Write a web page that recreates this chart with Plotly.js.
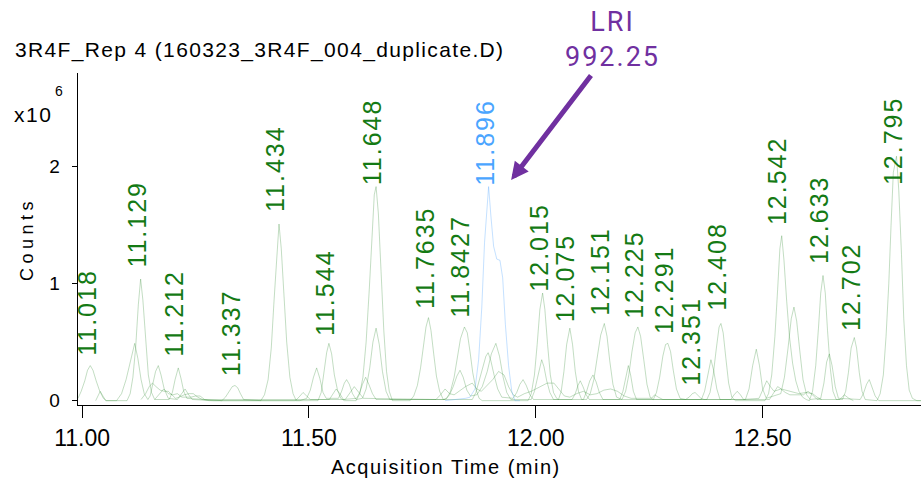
<!DOCTYPE html>
<html>
<head>
<meta charset="utf-8">
<script src="https://cdn.plot.ly/plotly-3.0.1.min.js"></script>
<style>
  html, body { margin: 0; padding: 0; background: #ffffff; }
  #chart { width: 921px; height: 478px; }
</style>
</head>
<body>
<div id="chart"></div>
<script>
// Overlaid extracted-ion chromatograms, 3R4F replicate 4.
// Each pair is [acquisition time (min), counts (x10^6)].

// Quantifier ions of the labelled compounds
const eicMain = [
  [10.991,0.02],[10.998,0.08],[11.006,0.17],[11.012,0.26],[11.018,0.30],[11.024,0.26],[11.031,0.17],[11.039,0.08],[11.047,0.02],[11.054,0.00],
  [11.099,0.00],[11.106,0.06],[11.112,0.20],[11.118,0.45],[11.124,0.82],[11.129,1.04],[11.134,0.86],[11.140,0.52],[11.146,0.22],[11.153,0.07],[11.160,0.01],
  [11.192,0.01],[11.199,0.07],[11.205,0.18],[11.212,0.28],[11.218,0.19],[11.224,0.08],[11.231,0.02],
  [11.300,0.00],[11.308,0.00],[11.316,0.03],[11.324,0.08],[11.331,0.12],[11.337,0.13],[11.343,0.11],[11.349,0.06],[11.356,0.01],
  [11.394,0.00],[11.402,0.05],[11.410,0.18],[11.417,0.45],[11.423,0.85],[11.429,1.25],[11.434,1.51],[11.439,1.30],[11.445,0.90],[11.451,0.50],[11.458,0.20],[11.465,0.06],[11.472,0.00],
  [11.520,0.00],[11.527,0.07],[11.533,0.22],[11.539,0.41],[11.544,0.49],[11.550,0.40],[11.556,0.22],[11.563,0.09],[11.570,0.02],[11.578,0.00],
  [11.604,0.00],[11.612,0.06],[11.619,0.20],[11.626,0.50],[11.633,0.95],[11.639,1.45],[11.644,1.76],[11.648,1.83],[11.653,1.60],[11.659,1.10],[11.665,0.60],[11.671,0.25],[11.677,0.08],[11.684,0.00],
  [11.723,0.00],[11.731,0.04],[11.739,0.13],[11.746,0.28],[11.752,0.45],[11.758,0.63],[11.7635,0.71],[11.769,0.60],[11.775,0.40],[11.781,0.21],[11.788,0.08],[11.796,0.01],
  [11.804,0.02],[11.812,0.08],[11.820,0.20],[11.827,0.36],[11.834,0.53],[11.8427,0.63],[11.849,0.58],[11.855,0.42],[11.861,0.24],[11.868,0.10],[11.875,0.02],[11.882,0.00],
  [11.983,0.00],[11.990,0.06],[11.997,0.22],[12.003,0.48],[12.009,0.78],[12.015,0.92],[12.020,0.78],[12.026,0.48],[12.032,0.22],[12.039,0.07],[12.046,0.02],
  [12.050,0.01],[12.056,0.08],[12.062,0.25],[12.068,0.48],[12.075,0.62],[12.081,0.48],[12.087,0.25],[12.094,0.08],[12.101,0.01],
  [12.112,0.01],[12.120,0.06],[12.128,0.18],[12.135,0.36],[12.143,0.56],[12.151,0.66],[12.157,0.55],[12.163,0.34],[12.170,0.14],[12.178,0.03],
  [12.190,0.01],[12.198,0.08],[12.205,0.22],[12.212,0.42],[12.219,0.58],[12.225,0.63],[12.231,0.55],[12.238,0.35],[12.245,0.14],[12.252,0.03],
  [12.259,0.01],[12.266,0.07],[12.273,0.20],[12.280,0.38],[12.286,0.48],[12.291,0.49],[12.297,0.42],[12.303,0.26],[12.310,0.10],[12.318,0.02],
  [12.330,0.01],[12.338,0.03],[12.345,0.06],[12.351,0.07],[12.357,0.05],[12.364,0.02],[12.371,0.01],
  [12.377,0.01],[12.384,0.07],[12.391,0.22],[12.398,0.45],[12.404,0.63],[12.408,0.66],[12.413,0.58],[12.419,0.36],[12.425,0.15],[12.432,0.03],[12.440,0.00],
  [12.505,0.00],[12.513,0.06],[12.520,0.22],[12.527,0.55],[12.533,0.95],[12.538,1.30],[12.542,1.41],[12.547,1.20],[12.553,0.85],[12.559,0.55],[12.566,0.32],[12.573,0.17],[12.580,0.08],[12.588,0.03],[12.596,0.01],
  [12.603,0.00],[12.610,0.08],[12.617,0.30],[12.623,0.62],[12.628,0.92],[12.633,1.07],[12.638,0.92],[12.643,0.60],[12.649,0.28],[12.655,0.08],[12.662,0.01],
  [12.676,0.01],[12.683,0.08],[12.689,0.24],[12.695,0.45],[12.702,0.54],[12.707,0.45],[12.713,0.24],[12.719,0.08],[12.726,0.01],
  [12.752,0.00],[12.759,0.06],[12.766,0.22],[12.772,0.55],[12.778,1.00],[12.783,1.50],[12.788,1.95],[12.795,2.09],[12.800,1.80],[12.806,1.25],[12.811,0.70],[12.817,0.30],[12.823,0.09],[12.830,0.02],[12.840,0.00],[12.849,0.00]
];

// Qualifier ions, first set
const eicQual1 = [
  [11.030,0.00],[11.035,0.04],[11.040,0.08],[11.046,0.04],[11.052,0.00],
  [11.076,0.00],[11.087,0.06],[11.097,0.18],[11.106,0.33],[11.116,0.49],[11.123,0.36],[11.130,0.18],[11.137,0.06],[11.145,0.01],
  [11.150,0.04],[11.156,0.14],[11.162,0.25],[11.168,0.30],[11.174,0.22],[11.181,0.10],[11.190,0.02],
  [11.210,0.01],[11.218,0.05],[11.227,0.10],[11.235,0.05],[11.243,0.01],
  [11.290,0.00],[11.480,0.00],
  [11.495,0.02],[11.503,0.09],[11.510,0.20],[11.517,0.28],[11.524,0.19],[11.531,0.07],[11.538,0.02],
  [11.565,0.02],[11.572,0.08],[11.578,0.15],[11.583,0.18],[11.589,0.14],[11.596,0.06],[11.604,0.01],
  [11.618,0.02],[11.626,0.10],[11.634,0.28],[11.641,0.50],[11.648,0.62],[11.655,0.48],[11.662,0.25],[11.670,0.08],[11.678,0.01],
  [11.800,0.01],[11.810,0.05],[11.818,0.12],[11.826,0.21],[11.833,0.26],[11.840,0.20],[11.848,0.09],[11.856,0.04],
  [11.870,0.05],[11.882,0.12],[11.893,0.25],[11.902,0.40],[11.912,0.49],[11.920,0.38],[11.928,0.20],[11.936,0.07],[11.945,0.01],
  [11.990,0.01],[11.997,0.08],[12.004,0.20],[12.009,0.30],[12.013,0.35],[12.018,0.29],[12.024,0.17],[12.031,0.07],[12.039,0.01],
  [12.080,0.01],[12.087,0.06],[12.093,0.13],[12.098,0.17],[12.104,0.12],[12.111,0.05],[12.118,0.01],
  [12.185,0.01],[12.192,0.08],[12.198,0.20],[12.204,0.30],[12.209,0.22],[12.215,0.08],[12.222,0.01],
  [12.365,0.01],[12.372,0.08],[12.379,0.22],[12.386,0.35],[12.392,0.26],[12.399,0.10],[12.406,0.01],
  [12.462,0.01],[12.470,0.10],[12.478,0.30],[12.486,0.44],[12.493,0.30],[12.500,0.10],[12.508,0.02],
  [12.540,0.06],[12.548,0.20],[12.556,0.45],[12.563,0.70],[12.569,0.80],[12.575,0.68],[12.582,0.42],[12.589,0.18],[12.597,0.05],[12.605,0.01],
  [12.628,0.02],[12.635,0.15],[12.641,0.33],[12.647,0.40],[12.653,0.30],[12.660,0.12],[12.667,0.02],
  [12.715,0.01],[12.722,0.06],[12.729,0.14],[12.735,0.18],[12.741,0.12],[12.748,0.04],[12.756,0.00],[12.849,0.00]
];

// Qualifier ions, second set
const eicQual2 = [
  [11.130,0.01],[11.140,0.06],[11.148,0.12],[11.155,0.15],[11.163,0.12],[11.172,0.09],[11.181,0.08],[11.190,0.08],[11.198,0.05],[11.206,0.02],
  [11.214,0.03],[11.225,0.05],[11.236,0.06],[11.245,0.06],[11.255,0.03],[11.265,0.01],[11.280,0.00],
  [11.470,0.00],[11.478,0.03],[11.487,0.07],[11.495,0.04],[11.503,0.01],
  [11.545,0.01],[11.553,0.06],[11.560,0.10],[11.568,0.06],[11.576,0.01],
  [11.605,0.02],[11.612,0.07],[11.618,0.14],[11.625,0.20],[11.632,0.14],[11.640,0.06],[11.648,0.01],
  [11.860,0.01],[11.868,0.07],[11.876,0.18],[11.884,0.30],[11.890,0.38],[11.895,0.41],[11.901,0.34],[11.908,0.22],[11.916,0.10],[11.925,0.03],
  [11.950,0.02],[11.958,0.07],[11.965,0.14],[11.972,0.18],[11.979,0.13],[11.987,0.05],[11.995,0.01],
  [12.105,0.01],[12.112,0.08],[12.119,0.17],[12.126,0.22],[12.133,0.16],[12.140,0.07],[12.148,0.01],
  [12.430,0.01],[12.437,0.05],[12.444,0.08],[12.451,0.05],[12.458,0.01],
  [12.492,0.02],[12.500,0.09],[12.509,0.17],[12.517,0.12],[12.525,0.08],[12.533,0.09],[12.540,0.10],[12.550,0.07],[12.560,0.05],
  [12.590,0.05],[12.600,0.08],[12.610,0.05],[12.620,0.01],
  [12.670,0.01],[12.680,0.05],[12.690,0.02],[12.700,0.00]
];

// Qualifier ions, third set
const eicQual3 = [
  [11.160,0.01],[11.170,0.06],[11.180,0.10],[11.190,0.06],[11.200,0.05],[11.210,0.06],[11.220,0.03],[11.240,0.03],[11.250,0.04],[11.260,0.04],[11.270,0.01],
  [11.580,0.01],[11.590,0.06],[11.600,0.12],[11.610,0.07],[11.620,0.02],
  [11.780,0.01],[11.790,0.05],[11.800,0.10],[11.810,0.06],[11.820,0.05],[11.830,0.08],[11.845,0.12],[11.860,0.15],[11.870,0.10],[11.880,0.08],
  [11.890,0.12],[11.905,0.18],[11.918,0.25],[11.930,0.22],[11.940,0.12],[11.950,0.05],[11.960,0.03],[11.975,0.06],[11.990,0.08],[12.000,0.10],
  [12.010,0.12],[12.025,0.15],[12.040,0.15],[12.052,0.09],[12.063,0.04],[12.075,0.03],[12.090,0.06],[12.105,0.08],[12.120,0.05],[12.135,0.06],
  [12.150,0.09],[12.165,0.10],[12.180,0.08],[12.195,0.04],[12.210,0.02],
  [12.255,0.02],[12.262,0.05],[12.270,0.03],[12.280,0.01],
  [12.515,0.01],[12.525,0.07],[12.533,0.12],[12.541,0.10],[12.550,0.09],[12.565,0.07],[12.580,0.06],[12.595,0.07],[12.610,0.06],[12.620,0.03],[12.630,0.01]
];

// Target compound trace (LRI 992.25)
const eicTarget = [
  [11.800,0.00],[11.830,0.01],[11.845,0.02],[11.855,0.03],[11.866,0.10],[11.874,0.35],[11.881,0.80],[11.887,1.35],[11.896,1.83],
  [11.901,1.58],[11.907,1.32],[11.914,1.21],[11.921,1.20],[11.927,1.05],[11.933,0.65],[11.940,0.30],[11.947,0.08],[11.954,0.00],[11.965,0.00]
];

// Retention times of the labelled peaks (min)
const peakRT = [11.018, 11.129, 11.212, 11.337, 11.434, 11.544, 11.648, 11.7635, 11.8427, 12.015,
                12.075, 12.151, 12.225, 12.291, 12.351, 12.408, 12.542, 12.633, 12.702, 12.795];
const targetRT = 11.896;
const targetLRI = '992.25';

const xTickVals = [11.0, 11.5, 12.0, 12.5];
const xTickText = ['11.00', '11.50', '12.00', '12.50'];
const yTickVals = [0, 1, 2];
const yTickText = ['0', '1', '2'];

// ---- drawing ----
const FONT = 'Liberation Sans, Arial, Helvetica, sans-serif';
const GREEN_LINE = 'rgba(45,135,45,0.36)';
const GREEN_TEXT = '#147a14';
const BLUE_LINE = 'rgba(80,165,255,0.42)';
const BLUE_TEXT = '#4aa5ff';
const PURPLE = '#7030a0';

function lineTrace(pairs, color) {
  return {
    type: 'scatter', mode: 'lines',
    x: pairs.map(p => p[0]), y: pairs.map(p => p[1]),
    line: { color: color, width: 0.8 },
    hoverinfo: 'skip', showlegend: false
  };
}

const traces = [
  lineTrace(eicQual3, GREEN_LINE),
  lineTrace(eicQual2, GREEN_LINE),
  lineTrace(eicQual1, GREEN_LINE),
  lineTrace(eicMain, GREEN_LINE),
  lineTrace(eicTarget, BLUE_LINE)
];

// Where each rotated label starts (counts, x10^6)
const labelFoot = [0.373, 1.13, 0.365, 0.205, 1.60, 0.547, 1.83, 0.775, 0.70, 0.92,
                   0.66, 0.72, 0.69, 0.56, 0.12, 0.76, 1.49, 1.16, 0.59, 1.83];
const targetFoot = 1.83;

function peakLabel(rt, foot, color) {
  return {
    x: rt, y: foot, xref: 'x', yref: 'y',
    text: '<span style="letter-spacing:2px">' + String(rt) + '</span>',
    showarrow: false, textangle: -90,
    xanchor: 'center', yanchor: 'bottom', xshift: -4, borderpad: 0,
    font: { family: FONT, size: 25, color: color }
  };
}

const annotations = peakRT.map((rt, i) => peakLabel(rt, labelFoot[i], GREEN_TEXT));
annotations.push(peakLabel(targetRT, targetFoot, BLUE_TEXT));

// LRI call-out and arrow
annotations.push({
  x: 0.634, y: 1.205, xref: 'paper', yref: 'paper',
  text: '<span style="letter-spacing:2px">LRI<br>' + targetLRI + '</span>',
  showarrow: false, xanchor: 'center', yanchor: 'top', borderpad: 0,
  font: { family: 'Roboto, ' + FONT, size: 27, color: PURPLE }
});
annotations.push({
  x: 11.9456, y: 1.886, xref: 'x', yref: 'y',
  ax: 81, ay: -106, text: '', showarrow: true,
  arrowhead: 2, arrowsize: 0.7, arrowwidth: 5, arrowcolor: PURPLE, standoff: 0
});

// y-axis multiplier and title
annotations.push({
  x: -0.0771, y: 0.8765, xref: 'paper', yref: 'paper',
  text: '<span style="letter-spacing:1.5px">x10</span>',
  showarrow: false, xanchor: 'left', yanchor: 'middle', borderpad: 0,
  font: { family: FONT, size: 21, color: '#000000' }
});
annotations.push({
  x: -0.0225, y: 0.945, xref: 'paper', yref: 'paper',
  text: '6', showarrow: false, xanchor: 'center', yanchor: 'middle', borderpad: 0,
  font: { family: FONT, size: 14, color: '#000000' }
});
annotations.push({
  x: -0.0605, y: 0.5, xref: 'paper', yref: 'paper',
  text: '<span style="letter-spacing:4.5px">Counts</span>',
  showarrow: false, textangle: -90, xanchor: 'center', yanchor: 'middle', borderpad: 0,
  font: { family: FONT, size: 18, color: '#000000' }
});
annotations.push({
  x: 0.4365, y: -0.1506, xref: 'paper', yref: 'paper',
  text: '<span style="letter-spacing:1.5px">Acquisition Time (min)</span>',
  showarrow: false, xanchor: 'center', yanchor: 'top', borderpad: 0,
  font: { family: FONT, size: 20, color: '#000000' }
});

const layout = {
  width: 921, height: 478,
  margin: { l: 78, r: 0, t: 73, b: 73, pad: 0 },
  paper_bgcolor: '#ffffff', plot_bgcolor: '#ffffff',
  font: { family: FONT, color: '#000000' },
  title: {
    text: '<span style="letter-spacing:1.35px">3R4F_Rep 4 (160323_3R4F_004_duplicate.D)</span>',
    x: 15 / 921, xanchor: 'left', xref: 'container',
    y: 1 - 50 / 478, yanchor: 'middle', yref: 'container',
    font: { family: FONT, size: 21, color: '#000000' }
  },
  xaxis: {
    range: [10.991, 12.849],
    tickmode: 'array', tickvals: xTickVals, ticktext: xTickText,
    ticks: 'outside', ticklen: 12, tickwidth: 1, tickcolor: '#000000',
    showline: true, linecolor: '#000000', linewidth: 1.3,
    showgrid: false, zeroline: false,
    tickfont: { family: FONT, size: 23, color: '#000000' }
  },
  yaxis: {
    range: [-0.037, 2.801],
    tickmode: 'array', tickvals: yTickVals, ticktext: yTickText,
    ticks: 'outside', ticklen: 5, tickwidth: 1, tickcolor: '#000000',
    ticklabelstandoff: 8,
    showline: true, linecolor: '#000000', linewidth: 1.3,
    showgrid: false, zeroline: false,
    tickfont: { family: FONT, size: 19, color: '#000000' }
  },
  annotations: annotations,
  showlegend: false
};

Plotly.newPlot('chart', traces, layout, { staticPlot: true, displayModeBar: false });
</script>
</body>
</html>
